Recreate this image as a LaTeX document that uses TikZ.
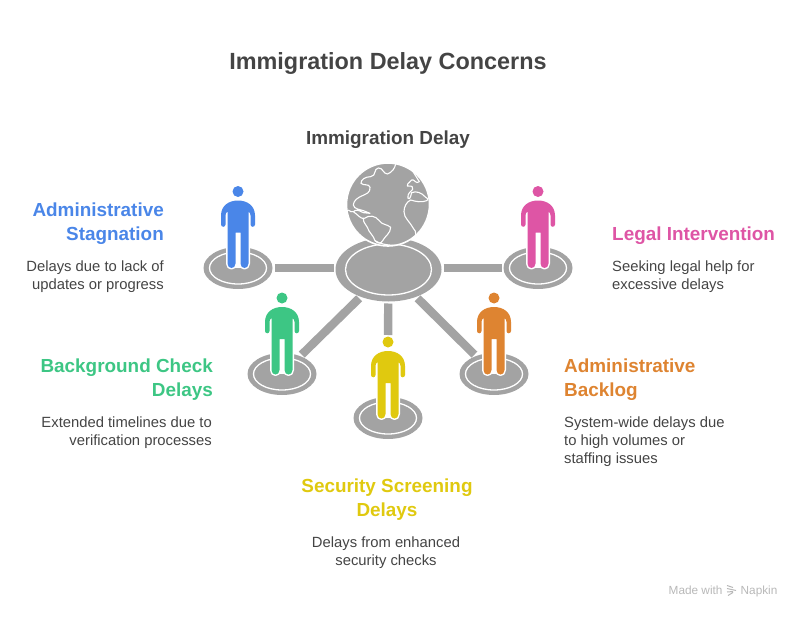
\documentclass[tikz,border=0pt]{standalone}
\usepackage{fontspec}
\setmainfont{Liberation Sans}
\usetikzlibrary{shapes.geometric}
\definecolor{cgray}{HTML}{A3A3A3}
\definecolor{ctext}{HTML}{444444}
\definecolor{cblue}{HTML}{4A86E8}
\definecolor{cgreen}{HTML}{3DC684}
\definecolor{cyellow}{HTML}{E0C90F}
\definecolor{corange}{HTML}{DE8431}
\definecolor{cpink}{HTML}{DE55A5}
\tikzset{
  base/.style={ellipse,fill=cgray,inner sep=0pt,outer sep=2pt,minimum width=69pt,minimum height=42pt},
  hubnode/.style={ellipse,fill=cgray,inner sep=0pt,outer sep=2pt,minimum width=106pt,minimum height=64pt},
  spoke/.style={draw=cgray,line width=8.4pt},
  ring/.style={draw=white,line width=1.3pt},
  headdot/.style={circle,inner sep=0pt,outer sep=1.5pt,minimum size=11pt},
  ttl/.style={font=\fontsize{23.4}{28}\selectfont\bfseries,text=ctext},
  head/.style={font=\fontsize{18.9}{24}\selectfont\bfseries,inner sep=0pt},
  desc/.style={font=\fontsize{14.8}{18}\selectfont,text=ctext,inner sep=0pt},
  foot/.style={font=\fontsize{11.8}{13}\selectfont,text=black!28,anchor=base west,inner sep=0pt},
  cont/.style={draw=white,line width=1.1pt,line join=round,fill=none}
}
\newcommand{\personshape}{%
      (-17,33) -- (-17,24) .. controls (-17,14) and (-9,9) .. (0,9)
      .. controls (9,9) and (17,14) .. (17,24) -- (17,33)
      .. controls (17,36) and (12.5,36) .. (12.5,33) -- (12.5,24)
      .. controls (12.5,22) and (11.5,20.5) .. (10.5,20) -- (10.5,72)
      .. controls (10.5,78) and (2.5,78) .. (2.5,72) -- (2.5,41) -- (-2.5,41) -- (-2.5,72)
      .. controls (-2.5,78) and (-10.5,78) .. (-10.5,72) -- (-10.5,20)
      .. controls (-11.5,20.5) and (-12.5,22) .. (-12.5,24) -- (-12.5,33)
      .. controls (-12.5,36) and (-17,36) .. (-17,33) -- cycle}
\newcommand{\personfig}[3]{%
  \begin{scope}[shift={(#1)}]
    \path[draw=white,line width=3pt,line join=round] \personshape;
    \fill[white] (-3,40) rectangle (3,76);
    \path[fill=#2] \personshape;
    \node[headdot,fill=#2] (#3) at (0,0) {};
  \end{scope}}
\begin{document}
\begin{tikzpicture}[x=1pt,y=-1pt]
\useasboundingbox (0,0) rectangle (801,618);
\node[ttl] (title) at (388,64) {Immigration Delay Concerns};
\node[font=\fontsize{18.9}{24}\selectfont\bfseries,text=ctext] (hublabel) at (388,139.5) {Immigration Delay};
% bases
\node[hubnode] (hub) at (388.5,269.5) {};
\node[base] (bblue) at (238,268) {};
\node[base] (bpink) at (538,268) {};
\node[base] (bgreen) at (282,374) {};
\node[base] (byellow) at (388,418) {};
\node[base] (borange) at (494,374) {};
\draw[ring] (hub.center) ellipse (43 and 25.5);
\foreach \n in {bblue,bpink,bgreen,byellow,borange}
  \draw[ring] (\n.center) ellipse (28.5 and 16);
% globe
\node[circle,fill=cgray,draw=white,line width=1.6pt,inner sep=0pt,minimum size=83pt] (globe) at (388,204.5) {};
\begin{scope}
  \clip (388,204.5) circle (41);
  \begin{scope}[shift={(330,150)},x=0.3333pt,y=-0.3333pt]
    \draw[cont] (197,42) .. controls (195,55) and (185,68) .. (172,72)
      .. controls (160,72) and (158,52) .. (145,54)
      .. controls (130,56) and (140,78) .. (122,80)
      .. controls (108,80) and (92,88) .. (93,100)
      .. controls (100,108) and (118,100) .. (120,112)
      .. controls (122,128) and (108,132) .. (95,138)
      .. controls (85,142) and (70,152) .. (70,165)
      .. controls (72,178) and (90,178) .. (100,182)
      -- (120,190) -- (100,188) .. controls (85,180) and (78,178) .. (70,185)
      .. controls (85,195) and (92,208) .. (103,205)
      .. controls (118,195) and (135,196) .. (148,212)
      .. controls (155,225) and (172,222) .. (182,232)
      .. controls (182,250) and (165,258) .. (158,272)
      .. controls (152,282) and (145,282) .. (135,272)
      .. controls (130,255) and (118,250) .. (112,232)
      .. controls (108,222) and (100,220) .. (100,205);
    \draw[cont] (55,180) .. controls (62,186) and (64,186) .. (70,185);
    \draw[cont] (245,58) .. controls (252,70) and (262,85) .. (268,95)
      .. controls (258,105) and (252,85) .. (245,90)
      .. controls (242,100) and (232,95) .. (232,108)
      .. controls (240,112) and (248,102) .. (248,118)
      .. controls (240,128) and (232,130) .. (234,145)
      .. controls (236,150) and (240,148) .. (245,128)
      .. controls (258,122) and (275,128) .. (285,140)
      .. controls (292,145) and (298,148) .. (290,152)
      .. controls (275,158) and (258,155) .. (242,150)
      .. controls (230,155) and (222,170) .. (222,185)
      .. controls (222,205) and (240,215) .. (250,235)
      .. controls (262,245) and (258,262) .. (248,272)
      .. controls (238,280) and (215,285) .. (190,286)
      .. controls (170,285) and (150,282) .. (135,272);
  \end{scope}
\end{scope}
% people
\personfig{238,191.5}{cblue}{pblue}
\personfig{538,191.5}{cpink}{ppink}
\personfig{282,298}{cgreen}{pgreen}
\personfig{388,342}{cyellow}{pyellow}
\personfig{494,298}{corange}{porange}
% spokes
\draw[spoke] (hub.west |- bblue) -- (bblue);
\draw[spoke] (hub.east |- bpink) -- (bpink);
\draw[spoke] (hub) -- (bgreen);
\draw[spoke] (hub) -- (borange);
\draw[spoke] (hub) -- (pyellow);
% texts
\node[head,text=cblue,align=right,anchor=north east] (t1) at (164,202.5) {Administrative\\Stagnation};
\node[desc,align=right,anchor=north east] (d1) at (164,260.5) {Delays due to lack of\\updates or progress};
\node[head,text=cpink,align=left,anchor=north west] (t2) at (612,226.5) {Legal Intervention};
\node[desc,align=left,anchor=north west] (d2) at (612,260.5) {Seeking legal help for\\excessive delays};
\node[head,text=cgreen,align=right,anchor=north east] (t3) at (213,358.5) {Background Check\\Delays};
\node[desc,align=right,anchor=north east] (d3) at (212,416.5) {Extended timelines due to\\verification processes};
\node[head,text=corange,align=left,anchor=north west] (t4) at (564,358.5) {Administrative\\Backlog};
\node[desc,align=left,anchor=north west] (d4) at (564,416.5) {System-wide delays due\\to high volumes or\\staffing issues};
\node[head,text=cyellow,align=center,anchor=north] (t5) at (387,478.5) {Security Screening\\Delays};
\node[desc,align=center,anchor=north] (d5) at (386,536.5) {Delays from enhanced\\security checks};
% footer
\node[foot] (made) at (668.5,594.5) {Made with};
\node[foot] (nap) at (740.5,594.5) {Napkin};
\draw[black!28,line width=1pt] (727,585.5) -- (733,587.5) (727,588.5) -- (736,590.5) (727,592) -- (733,591.5) (728,595.5) -- (733,592.5);
\end{tikzpicture}
\end{document}
